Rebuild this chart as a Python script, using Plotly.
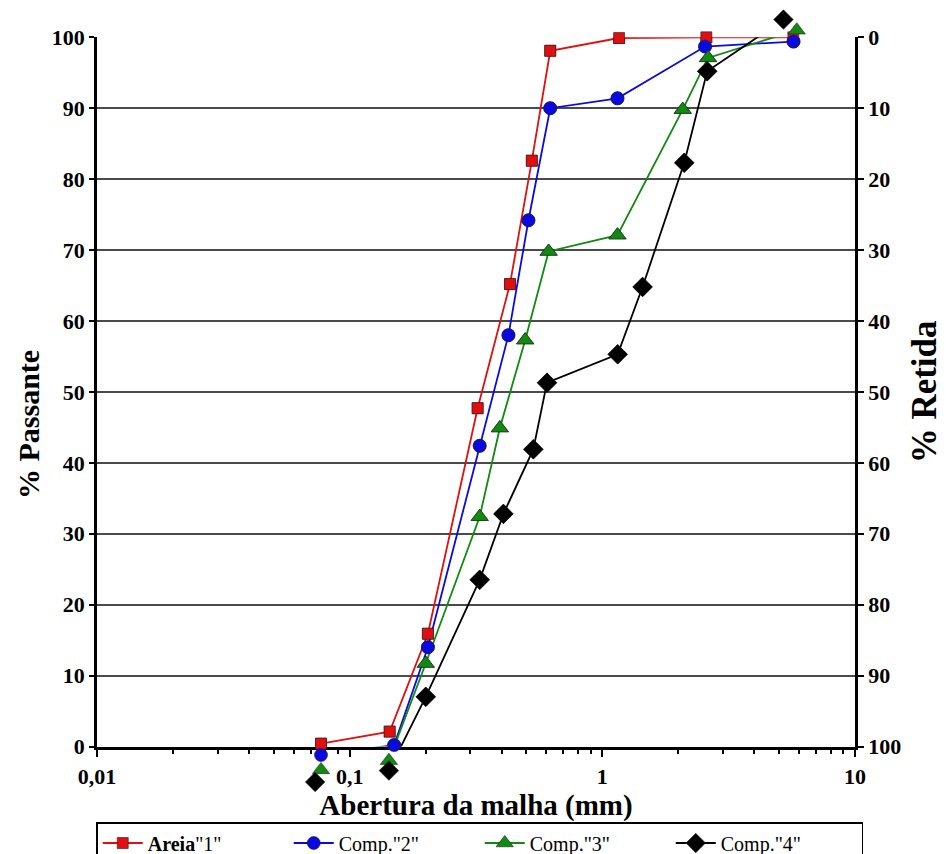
import plotly.graph_objects as go

# Grain-size distribution curves (% passing vs sieve opening, mm)
areia1_x = [0.077, 0.144, 0.204, 0.321, 0.431, 0.526, 0.622, 1.165, 2.58, 5.7]
areia1_y = [0.4, 2.1, 15.9, 47.7, 65.2, 82.6, 98.1, 99.9, 100.0, 100.0]

comp2_x = [0.077, 0.150, 0.204, 0.327, 0.425, 0.510, 0.622, 1.148, 2.55, 5.71]
comp2_y = [-1.2, 0.2, 14.0, 42.4, 58.0, 74.2, 90.0, 91.4, 98.7, 99.4]

comp3_x = [0.077, 0.143, 0.200, 0.327, 0.393, 0.495, 0.613, 1.148, 2.08, 2.62, 5.88]
comp3_y = [-3.3, -2.0, 11.7, 32.4, 44.9, 57.3, 69.8, 72.1, 89.8, 97.1, 101.0]

comp4_x = [0.073, 0.143, 0.200, 0.327, 0.406, 0.533, 0.604, 1.15, 1.443, 2.11, 2.60, 5.21]
comp4_y = [-5.0, -3.4, 7.0, 23.5, 32.8, 41.9, 51.3, 55.3, 64.8, 82.3, 95.2, 102.5]

series_names = ['<b>Areia</b>"1"', 'Comp."2"', 'Comp."3"', 'Comp."4"']

x_tick_vals = [0.01, 0.1, 1, 10]
x_tick_text = ["0,01", "0,1", "1", "10"]
y_tick_vals = [0, 10, 20, 30, 40, 50, 60, 70, 80, 90, 100]

SERIF = "Liberation Serif"
W, H = 946, 854
M_L, M_R, M_T, M_B = 97, 91, 5, 40

# main plot frame in pixels: top of the 0-100 scale and its base line
FRAME_TOP, FRAME_BOTTOM = 37.3, 746.5
paper_h = H - M_T - M_B
paper_w = W - M_L - M_R
d0 = (H - M_B - FRAME_BOTTOM) / paper_h
d1 = (H - M_B - FRAME_TOP) / paper_h
# marker layer spans the whole paper so symbols just outside 0-100 stay visible
unit = (d1 - d0) / 100.0
marker_range = [(0 - d0) / unit, (1 - d0) / unit]

styles = [
    dict(color="#e01010", symbol="square", size=11),
    dict(color="#0a0ae0", symbol="circle", size=13),
    dict(color="#108a10", symbol="triangle-up", size=15),
    dict(color="#000000", symbol="diamond", size=15),
]
data = [(areia1_x, areia1_y), (comp2_x, comp2_y), (comp3_x, comp3_y), (comp4_x, comp4_y)]

fig = go.Figure()
for (xs, ys), name, st in zip(data, series_names, styles):
    mk = dict(symbol=st["symbol"], size=st["size"], color=st["color"],
              line=dict(color="#202020", width=0.6))
    fig.add_trace(go.Scatter(
        x=xs, y=ys, name=name, mode="lines+markers", xaxis="x", yaxis="y",
        line=dict(color=st["color"], width=1.8), marker=mk,
    ))
    fig.add_trace(go.Scatter(
        x=xs, y=ys, mode="markers", xaxis="x2", yaxis="y3",
        marker=mk, showlegend=False, cliponaxis=False, hoverinfo="skip",
    ))

# secondary axis (% retained) mirrors % passing
fig.add_trace(go.Scatter(x=[0.01], y=[100], yaxis="y2", mode="markers",
                         marker=dict(opacity=0), showlegend=False, hoverinfo="skip"))

minor_vals = [m * 10 ** e for e in (-2, -1, 0) for m in range(2, 10)]
tick_font = dict(family=SERIF, size=22, color="black", weight="bold")

fig.update_layout(
    width=W, height=H,
    margin=dict(l=M_L, r=M_R, t=M_T, b=M_B, autoexpand=False),
    plot_bgcolor="rgba(0,0,0,0)", paper_bgcolor="white",
    font=dict(family=SERIF, color="black"),
    xaxis=dict(
        type="log", range=[-2, 1], domain=[0, 1], anchor="y",
        tickvals=x_tick_vals, ticktext=x_tick_text,
        ticks="outside", ticklen=8, tickwidth=2, tickcolor="black",
        minor=dict(tickvals=minor_vals, ticks="outside", ticklen=5, tickwidth=1.5, tickcolor="black"),
        showgrid=False, showline=True, linecolor="black", linewidth=2.5,
        tickfont=tick_font,
        title=dict(text="Abertura da malha (mm)", standoff=0,
                   font=dict(family=SERIF, size=29, color="black", weight="bold")),
        zeroline=False,
    ),
    yaxis=dict(
        range=[0, 100], domain=[d0, d1], anchor="x", tickvals=y_tick_vals,
        ticks="outside", ticklen=5, tickwidth=2, tickcolor="black",
        showgrid=True, gridcolor="#4a4a4a", gridwidth=2.2,
        showline=True, linecolor="black", linewidth=2.5,
        tickfont=tick_font,
        zeroline=False,
    ),
    yaxis2=dict(
        range=[100, 0], tickvals=y_tick_vals, overlaying="y", side="right", anchor="x",
        ticks="outside", ticklen=6, tickwidth=2, tickcolor="black",
        showgrid=False, showline=True, linecolor="black", linewidth=2.5,
        tickfont=tick_font,
        title=dict(text="% Retida", standoff=12,
                   font=dict(family=SERIF, size=35, color="black", weight="bold")),
        zeroline=False,
    ),
    xaxis2=dict(type="log", range=[-2, 1], domain=[0, 1], anchor="y3", visible=False),
    yaxis3=dict(range=marker_range, domain=[0, 1], anchor="x2", visible=False),
    annotations=[dict(
        text="% Passante", textangle=-90, showarrow=False,
        xref="paper", yref="paper",
        x=(28 - M_L) / paper_w, y=(H - M_B - 425) / paper_h,
        xanchor="center", yanchor="middle",
        font=dict(family=SERIF, size=30, color="black", weight="bold"),
    )],
    legend=dict(
        orientation="h", x=-0.001, xanchor="left",
        y=(H - M_B - 822) / paper_h, yanchor="top",
        bgcolor="white", bordercolor="black", borderwidth=1.5,
        entrywidth=136, entrywidthmode="pixels",
        font=dict(family=SERIF, size=20, color="black"),
        itemwidth=40, tracegroupgap=0,
    ),
    showlegend=True,
)

fig.write_html("out.html")
